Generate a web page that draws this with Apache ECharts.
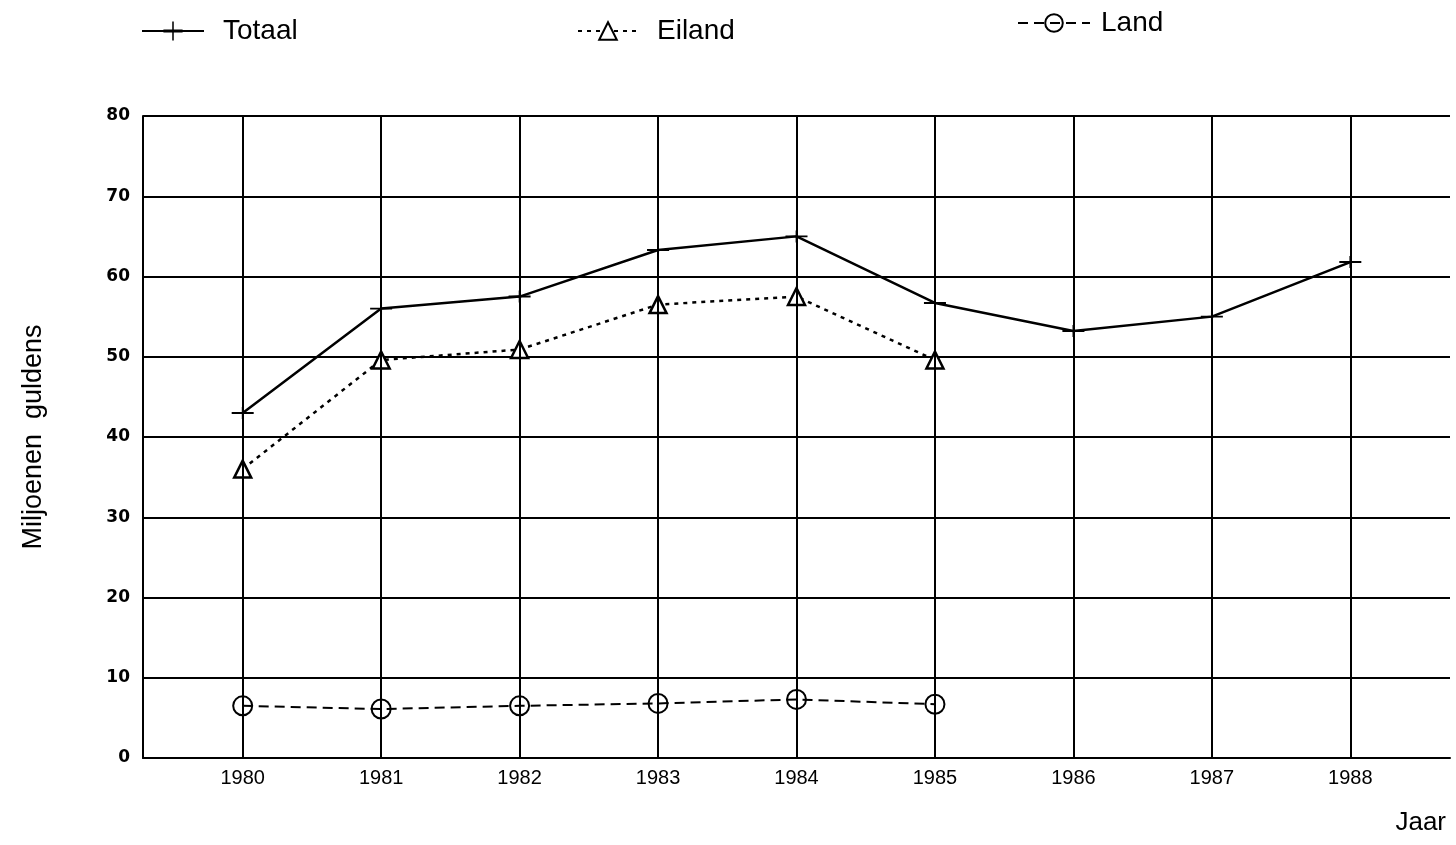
<!DOCTYPE html>
<html><head><meta charset="utf-8">
<script src="https://cdn.jsdelivr.net/npm/echarts@6/dist/echarts.min.js"></script>
<style>html,body{margin:0;padding:0;background:#fff}#c{width:1456px;height:845px}</style>
</head><body><div id="c"></div>
<script>
const years = [1980, 1981, 1982, 1983, 1984, 1985, 1986, 1987, 1988];
const totaal = [43, 56, 57.5, 63.3, 65, 56.7, 53.2, 55, 61.8];
const eiland = [36, 49.6, 50.9, 56.5, 57.5, 49.6];
const land = [6.5, 6.1, 6.5, 6.8, 7.3, 6.7];

const pairs = (vals) => vals.map((v, i) => [years[i], v]);
const crossPath = 'path://M0,4.2h20v1.6h-20z M9.2,0h1.6v10h-1.6z';
const font = 'Liberation Sans, Arial, sans-serif';

const chart = echarts.init(document.getElementById('c'));
chart.setOption({
  animation: false,
  backgroundColor: '#fff',
  grid: { left: 143, right: 6, top: 116, bottom: 87, containLabel: false },
  legend: [
    { data: ['Totaal'], left: 136, top: 12, itemWidth: 62, itemHeight: 24,
      textStyle: { fontFamily: font, fontSize: 28, color: '#000', padding: [0, 0, 0, 14] } },
    { data: ['Eiland'], left: 572, top: 12, itemWidth: 60, itemHeight: 22,
      textStyle: { fontFamily: font, fontSize: 28, color: '#000', padding: [0, 0, 0, 14] } },
    { data: ['Land'], left: 1012, top: 4, itemWidth: 72, itemHeight: 22,
      textStyle: { fontFamily: font, fontSize: 28, color: '#000', padding: [0, 0, 0, 6] } }
  ],
  xAxis: {
    type: 'value', min: 1979.28, max: 1988.72,
    name: 'Jaar', nameLocation: 'end', nameGap: 0,
    nameTextStyle: { fontFamily: font, fontSize: 26, color: '#000', align: 'right', verticalAlign: 'top', padding: [52, 4, 0, 0] },
    axisLine: { lineStyle: { color: '#000', width: 2 } },
    axisTick: { show: false },
    splitLine: { show: false },
    axisLabel: { customValues: years, formatter: (v) => String(Math.round(v)), fontFamily: font, fontSize: 20, color: '#000', margin: 10 }
  },
  yAxis: {
    type: 'value', min: 0, max: 80, interval: 10,
    name: 'Miljoenen  guldens', nameLocation: 'middle', nameGap: 96, nameRotate: 90,
    nameTextStyle: { fontFamily: font, fontSize: 27, color: '#000' },
    axisLine: { show: true, lineStyle: { color: '#000', width: 2 } },
    axisTick: { show: true, length: 0 },
    splitLine: { show: true, lineStyle: { color: '#000', width: 2 } },
    axisLabel: { fontFamily: 'DejaVu Sans, sans-serif', fontWeight: 'bold', fontSize: 17, color: '#000', margin: 13 }
  },
  series: [
    {
      name: 'grid', type: 'line', data: [], silent: true,
      markLine: {
        silent: true, symbol: 'none', label: { show: false },
        lineStyle: { color: '#000', width: 2, type: 'solid' },
        data: years.map(y => [{ coord: [y, 0] }, { coord: [y, 80] }])
      }
    },
    {
      name: 'Totaal', type: 'line', data: pairs(totaal),
      symbol: crossPath, symbolSize: [22, 12], showSymbol: true,
      lineStyle: { color: '#000', width: 2.5, type: 'solid' },
      itemStyle: { color: '#000' }
    },
    {
      name: 'Eiland', type: 'line', data: pairs(eiland),
      symbol: 'triangle', symbolSize: 17,
      lineStyle: { color: '#000', width: 2.5, type: [4, 5] },
      itemStyle: { color: '#fff', borderColor: '#000', borderWidth: 2.5 }
    },
    {
      name: 'Land', type: 'line', data: pairs(land),
      symbol: 'circle', symbolSize: 19,
      lineStyle: { color: '#000', width: 2, type: [10, 6] },
      itemStyle: { color: 'rgba(255,255,255,0)', borderColor: '#000', borderWidth: 2 }
    }
  ]
});
</script></body></html>
